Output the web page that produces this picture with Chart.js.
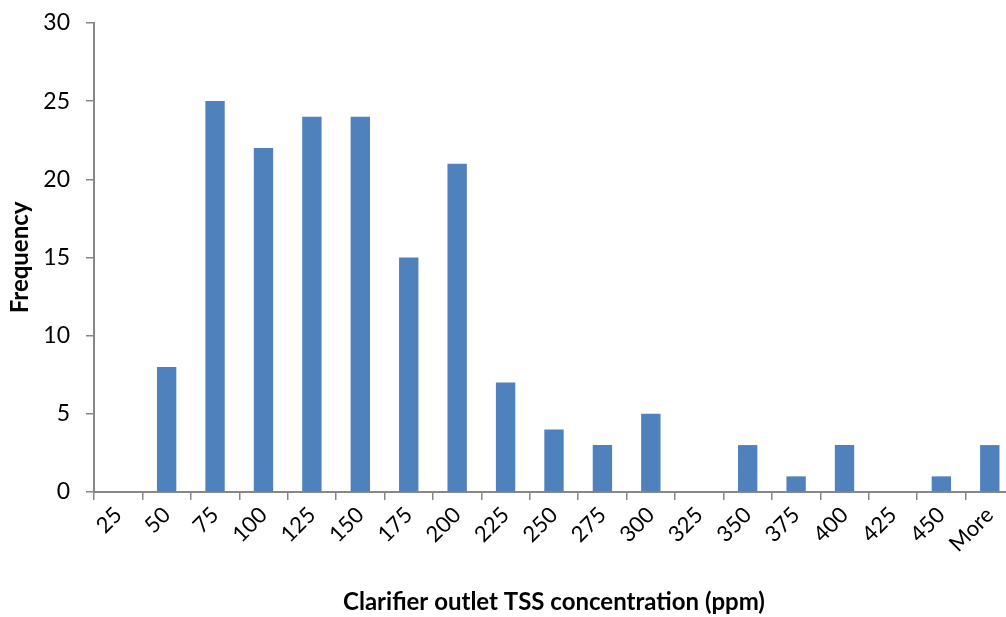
<!DOCTYPE html>
<html>
<head>
<meta charset="utf-8">
<script src="https://cdn.jsdelivr.net/npm/chart.js@4/dist/chart.umd.min.js"></script>
<style>
  html, body { margin: 0; padding: 0; background: #fff; overflow: hidden; }
  #wrap { width: 1014px; height: 617px; position: relative; }
</style>
</head>
<body>
<div id="wrap"><canvas id="histChart" width="1014" height="617"></canvas></div>
<script>
const binLabels = ["25", "50", "75", "100", "125", "150", "175", "200", "225", "250",
  "275", "300", "325", "350", "375", "400", "425", "450", "More"];
const frequency = [0, 8, 25, 22, 24, 24, 15, 21, 7, 4, 3, 5, 0, 3, 1, 3, 0, 1, 3];
const yTicks = [0, 5, 10, 15, 20, 25, 30];

const axisGray = "#878787";
const fontFamily = "Lato, 'Open Sans', sans-serif";

const ctx = document.getElementById("histChart").getContext("2d");

new Chart(ctx, {
  type: "bar",
  data: {
    labels: binLabels,
    datasets: [
      {
        label: "Frequency",
        data: frequency,
        backgroundColor: "#4F81BD",
        borderWidth: 0,
        barPercentage: 0.4,
        categoryPercentage: 1.0,
      },
    ],
  },
  options: {
    responsive: false,
    animation: false,
    layout: { padding: { top: 0, left: 6, right: 0, bottom: 0 } },
    plugins: {
      legend: { display: false },
      tooltip: { enabled: false },
    },
    scales: {
      x: {
        offset: true,
        grid: {
          offset: true,
          drawOnChartArea: false,
          drawTicks: true,
          tickLength: 8,
          color: axisGray,
          lineWidth: 1.5,
        },
        border: { color: axisGray, width: 2 },
        ticks: {
          color: "#000",
          font: { family: fontFamily, size: 22 },
          minRotation: 45,
          maxRotation: 45,
          autoSkip: false,
          padding: 2,
        },
        title: {
          display: true,
          text: "Clarifier outlet TSS concentration (ppm)",
          color: "#000",
          font: { family: fontFamily, size: 24, weight: "bold" },
          padding: { top: 4, bottom: 0 },
        },
        afterFit: (scale) => { scale.height = 125; },
      },
      y: {
        min: 0,
        max: 30,
        afterBuildTicks: (scale) => {
          scale.ticks = yTicks.map((v) => ({ value: v }));
        },
        grid: {
          drawOnChartArea: false,
          drawTicks: true,
          tickLength: 8,
          color: axisGray,
          lineWidth: 1.5,
        },
        border: { color: axisGray, width: 2 },
        ticks: {
          color: "#000",
          font: { family: fontFamily, size: 23, lineHeight: 0.6 },
          padding: 16,
        },
        title: {
          display: true,
          text: "Frequency",
          color: "#000",
          font: { family: fontFamily, size: 24, weight: "bold" },
          padding: { top: 0, bottom: 4 },
        },
        afterFit: (scale) => { scale.width = 88; },
      },
    },
  },
});
</script>
</body>
</html>
